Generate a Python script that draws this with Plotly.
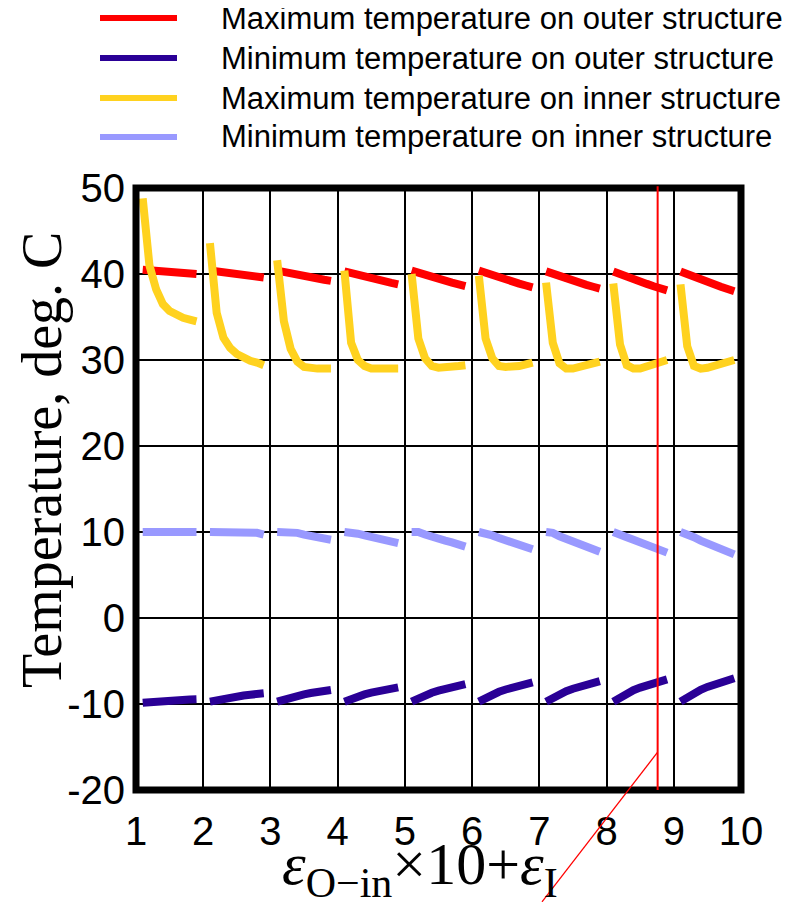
import plotly.graph_objects as go

# ---------------- data ----------------
groups = [1, 2, 3, 4, 5, 6, 7, 8, 9]                      # eps_O-in x 10
eps_i = [0.1, 0.2, 0.3, 0.4, 0.5, 0.6, 0.7, 0.8, 0.9]      # eps_I

max_outer = [
    [40.50, 40.43, 40.36, 40.29, 40.23, 40.17, 40.11, 40.06, 40.00],
    [40.40, 40.28, 40.17, 40.06, 39.97, 39.87, 39.78, 39.69, 39.60],
    [40.40, 40.22, 40.05, 39.90, 39.75, 39.61, 39.46, 39.33, 39.20],
    [40.30, 40.08, 39.87, 39.67, 39.49, 39.31, 39.13, 38.97, 38.80],
    [40.40, 40.13, 39.88, 39.64, 39.43, 39.21, 39.00, 38.80, 38.60],
    [40.40, 40.11, 39.83, 39.58, 39.35, 39.11, 38.88, 38.66, 38.45],
    [40.30, 40.00, 39.72, 39.46, 39.22, 38.98, 38.74, 38.52, 38.30],
    [40.30, 39.97, 39.66, 39.38, 39.11, 38.85, 38.58, 38.34, 38.10],
    [40.30, 39.96, 39.63, 39.33, 39.06, 38.78, 38.51, 38.25, 38.00],
]
min_outer = [
    [-9.85, -9.77, -9.70, -9.65, -9.60, -9.55, -9.52, -9.48, -9.45],
    [-9.73, -9.54, -9.37, -9.24, -9.12, -9.01, -8.92, -8.84, -8.76],
    [-9.73, -9.46, -9.23, -9.04, -8.87, -8.72, -8.60, -8.48, -8.37],
    [-9.73, -9.40, -9.11, -8.88, -8.68, -8.49, -8.34, -8.19, -8.06],
    [-9.73, -9.32, -8.98, -8.69, -8.45, -8.23, -8.05, -7.86, -7.70],
    [-9.73, -9.28, -8.90, -8.58, -8.31, -8.06, -7.86, -7.66, -7.48],
    [-9.73, -9.25, -8.84, -8.51, -8.22, -7.95, -7.74, -7.52, -7.33],
    [-9.73, -9.21, -8.77, -8.40, -8.09, -7.81, -7.57, -7.34, -7.13],
    [-9.73, -9.18, -8.72, -8.34, -8.01, -7.71, -7.46, -7.22, -7.00],
]
max_inner = [
    [48.8, 41.0, 38.2, 36.5, 35.7, 35.2, 34.9, 34.7, 34.5],
    [43.6, 35.5, 32.6, 31.4, 30.7, 30.2, 29.9, 29.7, 29.4],
    [41.6, 34.5, 31.3, 29.8, 29.2, 29.0, 29.0, 29.0, 29.0],
    [40.4, 32.0, 30.0, 29.3, 29.0, 29.0, 29.0, 29.0, 29.0],
    [40.0, 32.5, 30.2, 29.3, 29.1, 29.1, 29.2, 29.3, 29.4],
    [39.8, 32.5, 30.2, 29.3, 29.2, 29.2, 29.3, 29.5, 29.7],
    [39.0, 32.0, 29.6, 29.0, 29.0, 29.2, 29.4, 29.6, 29.8],
    [38.9, 31.8, 29.4, 29.0, 29.0, 29.3, 29.5, 29.8, 30.0],
    [38.8, 31.6, 29.3, 29.0, 29.1, 29.3, 29.5, 29.8, 30.0],
]
min_inner = [
    [10.0, 10.0, 10.0, 10.0, 10.0, 10.0, 10.0, 10.0, 10.0],
    [10.0, 10.0, 10.0, 10.0, 10.0, 10.0, 10.0, 9.9, 9.7],
    [10.0, 10.0, 10.0, 9.9, 9.7, 9.5, 9.4, 9.2, 9.1],
    [10.0, 10.0, 9.8, 9.6, 9.4, 9.2, 9.0, 8.85, 8.7],
    [10.0, 10.0, 9.7, 9.4, 9.2, 9.0, 8.8, 8.55, 8.3],
    [10.0, 9.9, 9.6, 9.3, 9.0, 8.75, 8.5, 8.25, 8.0],
    [10.0, 9.9, 9.5, 9.2, 8.9, 8.6, 8.3, 8.0, 7.7],
    [10.0, 9.8, 9.4, 9.1, 8.8, 8.5, 8.2, 7.9, 7.6],
    [10.0, 9.8, 9.4, 9.0, 8.7, 8.4, 8.0, 7.7, 7.4],
]

series_names = [
    "Maximum temperature on outer structure",
    "Minimum temperature on outer structure",
    "Maximum temperature on inner structure",
    "Minimum temperature on inner structure",
]
x_ticks = [1, 2, 3, 4, 5, 6, 7, 8, 9, 10]
x_tick_labels = ["1", "2", "3", "4", "5", "6", "7", "8", "9", "10"]
y_ticks = [50, 40, 30, 20, 10, 0, -10, -20]
y_tick_labels = ["50", "40", "30", "20", "10", "0", "-10", "-20"]

# red pointer line (x data, y data)
pointer_x = [8.76, 8.76, 7.04]
pointer_y = [50.2, -15.6, -33.0]

# ---------------- styles ----------------
colors = ["#FF0000", "#2A0096", "#FFD21F", "#9999FF"]
PAGE_OFF = 8                       # default body margin of the html page
SCR_W, SCR_H = 805, 902
PLOT_L, PLOT_R, PLOT_T, PLOT_B = 136, 741, 188, 790   # target plot box on screen
PW, PH = PLOT_R - PLOT_L, PLOT_B - PLOT_T
FIG_W, FIG_H = SCR_W - PAGE_OFF, SCR_H - PAGE_OFF
M_L, M_T = PLOT_L - PAGE_OFF, PLOT_T - PAGE_OFF
M_R, M_B = FIG_W - (PLOT_R - PAGE_OFF), FIG_H - (PLOT_B - PAGE_OFF)
X_RANGE = [1, 10]
Y_RANGE = [-20, 50]


def px_x(px):
    return (px - PLOT_L) / PW


def px_y(py):
    return (PLOT_B - py) / PH


def y_to_paper(v):
    return (v - Y_RANGE[0]) / (Y_RANGE[1] - Y_RANGE[0])


def build_xy(values):
    xs, ys = [], []
    for g, row in zip(groups, values):
        for e, v in zip(eps_i, row):
            xs.append(g + e)
            ys.append(v)
        xs.append(None)
        ys.append(None)
    return xs, ys


fig = go.Figure()
for name, vals, col in zip(series_names, [max_outer, min_outer, max_inner, min_inner], colors):
    xs, ys = build_xy(vals)
    fig.add_trace(go.Scatter(x=xs, y=ys, mode="lines", name=name,
                             line=dict(color=col, width=8),
                             showlegend=False, connectgaps=False))

shapes = []
# frame
shapes.append(dict(type="rect", xref="paper", yref="paper", x0=0, y0=0, x1=1, y1=1,
                   line=dict(color="black", width=7), layer="above"))
# red pointer
shapes.append(dict(type="line", xref="x", yref="paper",
                   x0=pointer_x[0], y0=y_to_paper(pointer_y[0]),
                   x1=pointer_x[1], y1=y_to_paper(Y_RANGE[0]),
                   line=dict(color="#FF0000", width=2), layer="above"))
shapes.append(dict(type="line", xref="x", yref="paper",
                   x0=pointer_x[1], y0=y_to_paper(pointer_y[1]),
                   x1=pointer_x[2], y1=y_to_paper(pointer_y[2]),
                   line=dict(color="#FF0000", width=1.3), layer="above"))

annotations = []
# custom legend
leg_rows = [18, 58, 98, 137]
for name, col, ry in zip(series_names, colors, leg_rows):
    shapes.append(dict(type="line", xref="paper", yref="paper",
                       x0=px_x(100), x1=px_x(177), y0=px_y(ry), y1=px_y(ry),
                       line=dict(color=col, width=6)))
    annotations.append(dict(text=name, xref="paper", yref="paper",
                            x=px_x(219), y=px_y(ry), xanchor="left", yanchor="middle",
                            showarrow=False,
                            font=dict(family="Liberation Sans, Arial", size=31, color="black")))

# axis titles
annotations.append(dict(text="Temperature, deg. C", xref="paper", yref="paper",
                        x=px_x(42), y=px_y(460), xanchor="center", yanchor="middle",
                        textangle=-90, showarrow=False,
                        font=dict(family="Liberation Serif, Times New Roman", size=56, color="black")))
annotations.append(dict(text="<i>ε</i><sub>O−in</sub>×10+<i>ε</i><sub>I</sub>",
                        xref="paper", yref="paper",
                        x=px_x(420), y=px_y(868), xanchor="center", yanchor="middle",
                        showarrow=False,
                        font=dict(family="Liberation Serif, Times New Roman", size=60, color="black")))

fig.update_layout(
    width=FIG_W, height=FIG_H,
    margin=dict(l=M_L, r=M_R, t=M_T, b=M_B, pad=0),
    paper_bgcolor="white", plot_bgcolor="white",
    showlegend=False,
    shapes=shapes, annotations=annotations,
    xaxis=dict(range=X_RANGE, tickvals=x_ticks, ticktext=x_tick_labels,
               showgrid=True, gridcolor="black", gridwidth=2,
               zeroline=False, showline=False, ticks="",
               ticklabelstandoff=14,
               tickfont=dict(family="Liberation Sans, Arial", size=40, color="black")),
    yaxis=dict(range=Y_RANGE, tickvals=y_ticks, ticktext=y_tick_labels,
               showgrid=True, gridcolor="black", gridwidth=2,
               zeroline=False, showline=False, ticks="",
               ticklabelstandoff=10,
               tickfont=dict(family="Liberation Sans, Arial", size=40, color="black")),
)

fig.write_html("out.html")
